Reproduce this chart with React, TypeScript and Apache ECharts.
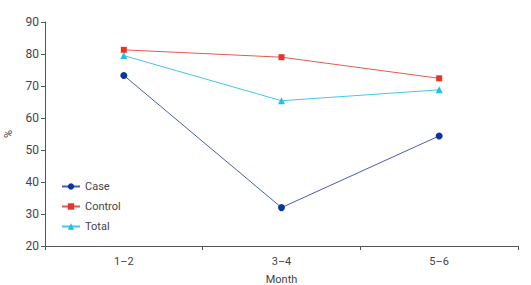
import React, { useEffect, useRef } from "react";
import * as echarts from "echarts";

const months = ["1–2", "3–4", "5–6"];
const caseValues = [73.3, 32.0, 54.4];
const controlValues = [81.3, 79.0, 72.4];
const totalValues = [79.5, 65.4, 68.8];
const yTicks = { min: 20, max: 90, interval: 10 };

const FONT = "Roboto, 'Noto Sans', sans-serif";

export default function App() {
  const ref = useRef<HTMLDivElement>(null);

  useEffect(() => {
    if (!ref.current) return;
    const chart = echarts.init(ref.current, undefined, { renderer: "svg" });
    chart.setOption({
      animation: false,
      textStyle: { fontFamily: FONT },
      grid: { left: 45, right: 13, top: 22, bottom: 39, outerBoundsMode: "none", containLabel: false },
      legend: {
        orient: "vertical",
        left: 56,
        top: 176,
        itemWidth: 18,
        itemHeight: 8,
        itemGap: 9,
        textStyle: { fontSize: 11, color: "#444", fontFamily: FONT },
        data: ["Case", "Control", "Total"],
      },
      xAxis: {
        type: "category",
        data: months,
        boundaryGap: true,
        name: "Month",
        nameLocation: "middle",
        nameGap: 28,
        nameTextStyle: { fontSize: 11, color: "#444" },
        axisLine: { lineStyle: { color: "#555", width: 1 } },
        axisTick: { show: true, length: 4, lineStyle: { color: "#555" } },
        axisLabel: { fontSize: 11, color: "#444", margin: 10 },
      },
      yAxis: {
        type: "value",
        min: yTicks.min,
        max: yTicks.max,
        interval: yTicks.interval,
        name: "%",
        nameLocation: "middle",
        nameGap: 31,
        nameRotate: 90,
        nameTextStyle: { fontSize: 11, color: "#444" },
        axisLine: { show: true, lineStyle: { color: "#555", width: 1 } },
        axisTick: { show: true, length: 4, lineStyle: { color: "#555" } },
        axisLabel: { fontSize: 12, color: "#444", margin: 6 },
        splitLine: { show: false },
      },
      series: [
        {
          name: "Case",
          type: "line",
          data: caseValues,
          symbol: "circle",
          symbolSize: 7,
          itemStyle: { color: "#0c3797" },
          lineStyle: { color: "#4b5dae", width: 1 },
        },
        {
          name: "Control",
          type: "line",
          data: controlValues,
          symbol: "rect",
          symbolSize: 6,
          itemStyle: { color: "#e3352a" },
          lineStyle: { color: "#e35b50", width: 1 },
        },
        {
          name: "Total",
          type: "line",
          data: totalValues,
          symbol: "triangle",
          symbolSize: 7,
          itemStyle: { color: "#22bde8" },
          lineStyle: { color: "#45c6ec", width: 1 },
        },
      ],
    });
    return () => chart.dispose();
  }, []);

  return (
    <div
      ref={ref}
      style={{ position: "fixed", left: 0, top: 0, width: 531, height: 285, background: "#fff" }}
    />
  );
}
